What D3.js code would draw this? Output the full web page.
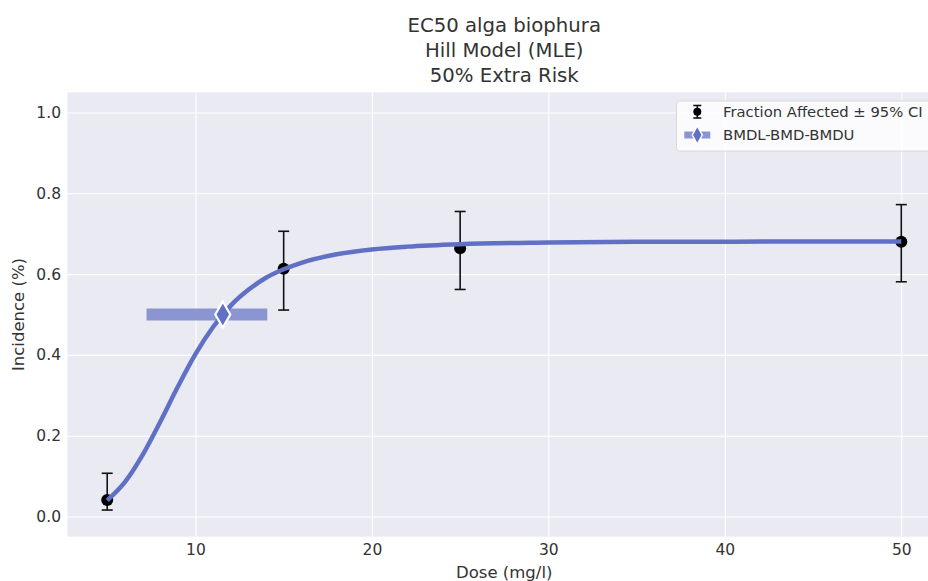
<!DOCTYPE html>
<html>
<head>
<meta charset="utf-8">
<script src="https://cdn.jsdelivr.net/npm/d3@7"></script>
<style>
  body { margin: 0; background: #fff; }
  svg { display: block; font-family: "DejaVu Sans", sans-serif; }
</style>
</head>
<body>
<div id="chart"></div>
<script>
// Observed data (fraction affected with 95% CI)
const doses = [5, 15, 25, 50];
const fraction = [0.041, 0.613, 0.664, 0.680];
const ciLow = [0.016, 0.511, 0.562, 0.581];
const ciHigh = [0.107, 0.706, 0.755, 0.772];

// Fitted Hill curve
const curveDose = [5, 6, 7, 8, 9, 10, 11, 12, 13, 14, 15, 16, 18, 20, 22, 25, 30, 35, 40, 45, 50];
const curveResp = [0.040, 0.085, 0.152, 0.234, 0.321, 0.402, 0.469, 0.522, 0.561, 0.591, 0.612, 0.628, 0.649, 0.661, 0.668, 0.674, 0.678, 0.680, 0.680, 0.681, 0.681];

// BMDL / BMD / BMDU
const bmdl = 7.23, bmd = 11.55, bmdu = 14.07, bmdResp = 0.5;

const xTicks = [10, 20, 30, 40, 50];
const yTicks = [0.0, 0.2, 0.4, 0.6, 0.8, 1.0];

const W = 928, H = 581;
const plot = { left: 67.5, right: 941, top: 92.3, bottom: 536.7 };

const curveColor = "#6070c4";
const barColor = "#8b95d2";

const svg = d3.select("#chart").append("svg")
  .attr("width", W)
  .attr("height", H);

const x = d3.scaleLinear().domain([2.75, 52.25]).range([plot.left, plot.right]);
const y = d3.scaleLinear().domain([-0.05, 1.05]).range([plot.bottom, plot.top]);

// Axes background
svg.append("rect")
  .attr("x", plot.left)
  .attr("y", plot.top)
  .attr("width", plot.right - plot.left)
  .attr("height", plot.bottom - plot.top)
  .attr("fill", "#eaeaf2");

// Grid
svg.append("g")
  .attr("transform", `translate(0,${plot.bottom})`)
  .call(d3.axisBottom(x).tickValues(xTicks).tickSize(-(plot.bottom - plot.top)).tickFormat(""))
  .call(g => g.select(".domain").remove())
  .selectAll("line")
  .attr("stroke", "#fff")
  .attr("stroke-width", 1.1);

svg.append("g")
  .attr("transform", `translate(${plot.left},0)`)
  .call(d3.axisLeft(y).tickValues(yTicks).tickSize(-(plot.right - plot.left)).tickFormat(""))
  .call(g => g.select(".domain").remove())
  .selectAll("line")
  .attr("stroke", "#fff")
  .attr("stroke-width", 1.1);

// Tick labels
svg.append("g")
  .attr("transform", `translate(0,${plot.bottom})`)
  .call(d3.axisBottom(x).tickValues(xTicks).tickSize(0).tickPadding(0).tickFormat(d3.format("d")))
  .call(g => g.select(".domain").remove())
  .selectAll("text")
  .attr("dy", null)
  .attr("y", 18.5)
  .style("font-size", "15.5px")
  .style("font-family", "DejaVu Sans")
  .attr("fill", "#333");

svg.append("g")
  .attr("transform", `translate(${plot.left},0)`)
  .call(d3.axisLeft(y).tickValues(yTicks).tickSize(0).tickPadding(6.5).tickFormat(d3.format(".1f")))
  .call(g => g.select(".domain").remove())
  .selectAll("text")
  .style("font-size", "15.5px")
  .style("font-family", "DejaVu Sans")
  .attr("fill", "#333");

// Axis labels
svg.append("text")
  .attr("x", (plot.left + plot.right) / 2)
  .attr("y", 578)
  .attr("text-anchor", "middle")
  .style("font-size", "16.5px")
  .attr("fill", "#333")
  .text("Dose (mg/l)");

svg.append("text")
  .attr("transform", `translate(24,${(plot.top + plot.bottom) / 2}) rotate(-90)`)
  .attr("text-anchor", "middle")
  .style("font-size", "16.5px")
  .attr("fill", "#333")
  .text("Incidence (%)");

// Title
const titleLines = ["EC50 alga biophura", "Hill Model (MLE)", "50% Extra Risk"];
titleLines.forEach((t, i) => {
  svg.append("text")
    .attr("x", (plot.left + plot.right) / 2)
    .attr("y", 31.5 + i * 25)
    .attr("text-anchor", "middle")
    .style("font-size", "19.7px")
    .attr("fill", "#333")
    .text(t);
});

// BMDL-BMDU bar
svg.append("line")
  .attr("x1", x(bmdl))
  .attr("x2", x(bmdu))
  .attr("y1", y(bmdResp))
  .attr("y2", y(bmdResp))
  .attr("stroke", barColor)
  .attr("stroke-width", 12);

// Error bars
const eb = svg.append("g");
doses.forEach((d, i) => {
  const cx = x(d);
  eb.append("line")
    .attr("x1", cx).attr("x2", cx)
    .attr("y1", y(ciLow[i])).attr("y2", y(ciHigh[i]))
    .attr("stroke", "#111").attr("stroke-width", 1.6);
  [ciLow[i], ciHigh[i]].forEach(v => {
    eb.append("line")
      .attr("x1", cx - 5.5).attr("x2", cx + 5.5)
      .attr("y1", y(v)).attr("y2", y(v))
      .attr("stroke", "#111").attr("stroke-width", 1.6);
  });
  eb.append("circle")
    .attr("cx", cx)
    .attr("cy", y(fraction[i]))
    .attr("r", 6)
    .attr("fill", "#000");
});

// Fitted curve
const line = d3.line()
  .x((d, i) => x(curveDose[i]))
  .y(d => y(d))
  .curve(d3.curveMonotoneX);

svg.append("path")
  .datum(curveResp)
  .attr("fill", "none")
  .attr("stroke", curveColor)
  .attr("stroke-width", 4.5)
  .attr("d", line);

// BMD diamond
function diamond(cx, cy, hw, hh) {
  return `M${cx},${cy - hh}L${cx + hw},${cy}L${cx},${cy + hh}L${cx - hw},${cy}Z`;
}
svg.append("path")
  .attr("d", diamond(x(bmd), y(bmdResp), 7.5, 13))
  .attr("fill", curveColor)
  .attr("stroke", "#fff")
  .attr("stroke-width", 2.2);

// Legend
const lg = svg.append("g");
lg.append("rect")
  .attr("x", 676.5)
  .attr("y", 101)
  .attr("width", 290)
  .attr("height", 50)
  .attr("rx", 3)
  .attr("fill", "#fff")
  .attr("fill-opacity", 0.8)
  .attr("stroke", "#d8d8d8");

const lx = 697.3;
// errorbar symbol
lg.append("line").attr("x1", lx).attr("x2", lx).attr("y1", 105.5).attr("y2", 118)
  .attr("stroke", "#111").attr("stroke-width", 1.6);
[105.5, 118].forEach(v => {
  lg.append("line").attr("x1", lx - 4).attr("x2", lx + 4).attr("y1", v).attr("y2", v)
    .attr("stroke", "#111").attr("stroke-width", 1.6);
});
lg.append("circle").attr("cx", lx).attr("cy", 111.7).attr("r", 4).attr("fill", "#000");

// bmd symbol
lg.append("line").attr("x1", lx - 13).attr("x2", lx + 13).attr("y1", 135).attr("y2", 135)
  .attr("stroke", barColor).attr("stroke-width", 7);
lg.append("path")
  .attr("d", diamond(lx, 135, 5, 9))
  .attr("fill", curveColor)
  .attr("stroke", "#fff")
  .attr("stroke-width", 1.5);

lg.append("text").attr("x", 723).attr("y", 111.7).attr("dy", "0.35em")
  .style("font-size", "14.8px").attr("fill", "#333")
  .text("Fraction Affected ± 95% CI");
lg.append("text").attr("x", 723).attr("y", 135).attr("dy", "0.35em")
  .style("font-size", "14.8px").attr("fill", "#333")
  .text("BMDL-BMD-BMDU");
</script>
</body>
</html>
